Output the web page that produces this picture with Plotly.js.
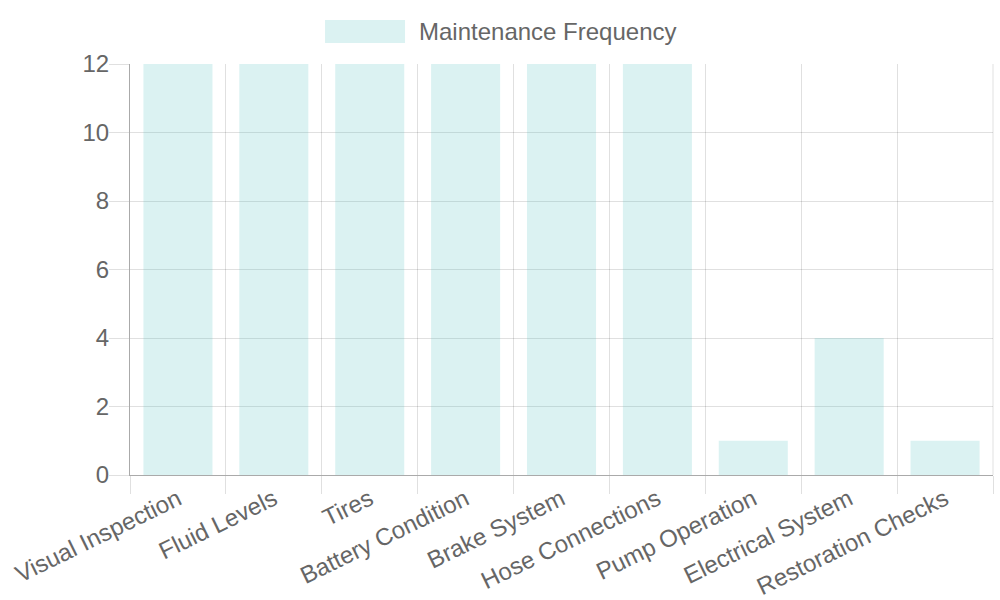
<!DOCTYPE html>
<html>
<head>
<meta charset="utf-8">
<script src="https://cdn.plot.ly/plotly-3.0.1.min.js"></script>
<style>
  html, body { margin: 0; padding: 0; background: #fff; }
  #chart { width: 1000px; height: 600px; }
</style>
</head>
<body>
<div id="chart"></div>
<script>
var categories = ['Visual Inspection', 'Fluid Levels', 'Tires', 'Battery Condition', 'Brake System',
  'Hose Connections', 'Pump Operation', 'Electrical System', 'Restoration Checks'];
var frequency = [12, 12, 12, 12, 12, 12, 1, 4, 1];
var seriesName = 'Maintenance Frequency';

var fill = 'rgba(75,192,192,0.2)';
var grid = 'rgba(0,0,0,0.12)';
var textColor = '#666';
var font = 'Liberation Sans, Arial, sans-serif';

var trace = {
  type: 'bar',
  x: categories,
  y: frequency,
  name: seriesName,
  marker: { color: fill, line: { width: 0 } },
  hoverinfo: 'x+y'
};

var layout = {
  width: 1000,
  height: 600,
  margin: { l: 130, r: 7, t: 64, b: 125 },
  paper_bgcolor: '#fff',
  plot_bgcolor: '#fff',
  font: { family: font, size: 24, color: textColor },
  showlegend: false,
  bargap: 0.28,
  xaxis: {
    type: 'category',
    tickson: 'boundaries',
    ticks: 'outside',
    ticklen: 18,
    tickcolor: grid,
    showgrid: true,
    gridcolor: grid,
    showline: true,
    linecolor: '#aaa',
    linewidth: 1,
    tickangle: -26,
    tickfont: { size: 24, color: textColor }
  },
  yaxis: {
    range: [0, 12],
    dtick: 2,
    ticks: 'outside',
    ticklen: 20,
    ticklabelstandoff: -5,
    tickcolor: grid,
    showgrid: true,
    gridcolor: grid,
    zeroline: false,
    showline: true,
    linecolor: '#aaa',
    linewidth: 1,
    tickfont: { size: 24, color: textColor }
  },
  shapes: [
    { type: 'rect', xref: 'paper', yref: 'paper',
      x0: 0.226, x1: 0.3187, y0: 1.051, y1: 1.107,
      fillcolor: fill, line: { width: 0 } },
    { type: 'line', xref: 'paper', yref: 'paper',
      x0: 1, x1: 1, y0: 0, y1: 1, line: { color: grid, width: 1 } }
  ],
  annotations: [
    { xref: 'paper', yref: 'paper', x: 0.3326, y: 1.078, xanchor: 'left', yanchor: 'middle',
      text: seriesName, showarrow: false, font: { size: 24, color: textColor } }
  ]
};

Plotly.newPlot('chart', [trace], layout, { displayModeBar: false, responsive: false });
</script>
</body>
</html>
